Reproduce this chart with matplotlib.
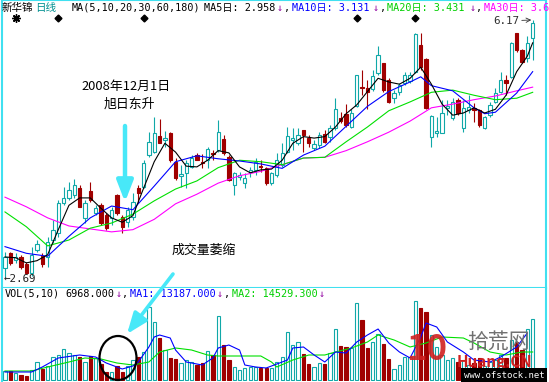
import numpy as np
import matplotlib
matplotlib.use('Agg')
import matplotlib.pyplot as plt
from matplotlib.patches import Ellipse, FancyArrowPatch

plt.rcParams['font.family'] = ['Noto Sans CJK SC', 'DejaVu Sans']

# daily candles, 新华锦
opens = [2.81, 3.01, 2.92, 2.96, 2.87, 2.74, 3.06, 2.97, 2.96, 3.19,
         3.29, 3.69, 3.76, 3.80, 3.89, 3.49, 3.85, 3.56, 3.66, 3.53,
         3.49, 3.80, 3.50, 3.43, 3.50, 3.89, 3.91, 4.34, 4.38, 4.60,
         4.54, 4.64, 4.25, 4.06, 4.10, 4.18, 4.34, 4.25, 4.27, 4.37,
         4.41, 4.56, 4.31, 3.94, 4.04, 3.96, 4.11, 4.14, 4.19, 4.17,
         3.96, 4.07, 4.21, 4.38, 4.54, 4.50, 4.68, 4.57, 4.44, 4.48,
         4.63, 4.59, 4.71, 4.84, 4.90, 4.72, 5.00, 5.26, 5.25, 5.24,
         5.45, 5.59, 5.36, 5.11, 5.20, 5.32, 5.34, 5.47, 5.83, 5.64,
         4.59, 4.64, 4.64, 4.98, 4.84, 5.09, 4.71, 4.95, 4.98, 4.95,
         4.71, 4.88, 5.06, 5.20, 5.36, 5.40, 5.99, 5.76, 5.65, 5.93]
highs = [3.03, 3.03, 3.01, 2.99, 2.89, 3.10, 3.19, 3.01, 3.23, 3.46,
         3.73, 3.91, 3.98, 4.02, 3.94, 3.73, 3.98, 3.66, 3.69, 3.56,
         3.64, 3.81, 3.53, 3.64, 3.83, 3.94, 4.27, 4.65, 4.86, 4.83,
         4.67, 4.65, 4.30, 4.21, 4.27, 4.34, 4.37, 4.35, 4.45, 4.41,
         4.82, 4.61, 4.34, 4.11, 4.11, 4.10, 4.18, 4.30, 4.27, 4.18,
         4.11, 4.37, 4.50, 4.72, 4.71, 4.71, 4.68, 4.61, 4.54, 4.65,
         4.68, 4.75, 5.11, 4.92, 5.03, 4.96, 5.42, 5.49, 5.36, 5.49,
         5.82, 5.59, 5.38, 5.22, 5.32, 5.47, 5.47, 5.99, 5.99, 5.65,
         4.88, 4.86, 5.09, 5.09, 5.11, 5.11, 5.09, 5.15, 5.05, 4.96,
         4.87, 5.06, 5.25, 5.47, 5.42, 5.87, 5.99, 5.78, 5.95, 6.17]
lows = [2.69, 2.85, 2.88, 2.80, 2.73, 2.70, 3.03, 2.83, 2.83, 3.15,
        3.23, 3.66, 3.73, 3.76, 3.64, 3.42, 3.71, 3.53, 3.39, 3.33,
        3.39, 3.53, 3.29, 3.37, 3.46, 3.69, 3.89, 4.31, 4.37, 4.50,
        4.45, 4.25, 4.00, 3.91, 3.89, 4.17, 4.27, 4.17, 4.17, 4.27,
        4.38, 4.34, 3.99, 3.80, 4.00, 3.89, 4.04, 4.07, 4.11, 3.94,
        3.94, 4.04, 4.18, 4.37, 4.41, 4.48, 4.38, 4.45, 4.41, 4.44,
        4.50, 4.52, 4.68, 4.77, 4.72, 4.71, 4.99, 5.15, 4.96, 5.21,
        5.42, 5.20, 5.05, 5.05, 5.15, 5.29, 5.32, 5.45, 5.49, 4.96,
        4.45, 4.59, 4.64, 4.88, 4.82, 4.88, 4.65, 4.91, 4.79, 4.72,
        4.69, 4.86, 5.05, 5.18, 5.15, 5.38, 5.74, 5.59, 5.60, 5.63]
closes = [2.96, 2.88, 2.96, 2.83, 2.74, 2.99, 3.14, 2.87, 3.16, 3.33,
          3.69, 3.76, 3.87, 3.94, 3.64, 3.69, 3.73, 3.62, 3.42, 3.35,
          3.60, 3.56, 3.37, 3.60, 3.71, 3.83, 4.23, 4.52, 4.64, 4.50,
          4.57, 4.27, 4.03, 4.08, 4.23, 4.30, 4.27, 4.23, 4.42, 4.35,
          4.65, 4.37, 4.00, 4.10, 4.07, 4.03, 4.14, 4.25, 4.18, 3.96,
          4.10, 4.27, 4.37, 4.60, 4.57, 4.61, 4.61, 4.50, 4.49, 4.61,
          4.52, 4.71, 4.96, 4.80, 4.75, 4.91, 5.42, 5.25, 5.20, 5.41,
          5.70, 5.22, 5.06, 5.18, 5.29, 5.42, 5.42, 5.98, 5.53, 4.98,
          4.87, 4.67, 4.91, 5.00, 5.06, 4.91, 4.98, 4.99, 4.95, 4.75,
          4.86, 5.02, 5.18, 5.36, 5.32, 5.86, 5.76, 5.60, 5.86, 6.13]
volumes = [14000, 14000, 11000, 7500, 6000, 15000, 27500, 16000, 21000, 34000,
           37500, 46000, 41000, 37500, 35000, 27500, 36000, 32500, 24000, 12500,
           12500, 21000, 12500, 21000, 30000, 35000, 42500, 110000, 87500, 62500,
           45000, 32500, 31000, 25000, 30000, 27500, 22500, 26000, 44000, 37500,
           96000, 52500, 30000, 19000, 15000, 17500, 19000, 19000, 17500, 17500,
           17500, 27500, 35000, 71500, 52500, 57500, 39000, 24000, 19000, 25000,
           24000, 40000, 76000, 51000, 49000, 47500, 116000, 90000, 47500, 57500,
           69000, 54000, 31500, 16000, 22500, 35000, 35000, 118500, 107500, 102500,
           67500, 49500, 37500, 30000, 33000, 27000, 30000, 22500, 25500, 33000,
           21000, 27000, 30000, 37500, 33000, 60000, 57000, 45000, 76000, 91000]

# moving averages
ma5_idx = list(range(0, 100, 2)) + [99]
ma5 = [2.96, 2.95, 2.88, 2.91, 2.99, 3.33, 3.66, 3.76, 3.76, 3.62,
       3.49, 3.43, 3.52, 3.89, 4.25, 4.50, 4.38, 4.19, 4.18, 4.27,
       4.40, 4.37, 4.18, 4.10, 4.14, 4.15, 4.27, 4.50, 4.59, 4.57,
       4.59, 4.72, 4.90, 5.02, 5.20, 5.38, 5.33, 5.30, 5.38, 5.53,
       5.30, 5.03, 4.88, 4.91, 4.98, 4.91, 4.96, 5.15, 5.47, 5.68, 5.86]
ma10_idx = [0, 4, 8, 12, 16, 20, 24, 28, 32, 36, 40, 44, 48, 52, 56, 60, 64, 68,
            72, 76, 78, 80, 84, 88, 90, 92, 96, 99]
ma10 = [3.10, 3.01, 2.97, 3.24, 3.49, 3.65, 3.60, 3.92, 4.25, 4.33, 4.29, 4.26,
        4.22, 4.16, 4.34, 4.46, 4.73, 5.00, 5.20, 5.33, 5.40, 5.28, 5.21, 4.98,
        4.90, 4.92, 5.18, 5.47]
ma_long_idx = list(range(0, 100, 4)) + [99]
ma20 = [3.57, 3.37, 3.11, 3.19, 3.35, 3.42, 3.54, 3.72, 3.88, 3.99, 4.17, 4.27,
        4.25, 4.21, 4.30, 4.31, 4.52, 4.72, 4.94, 5.06, 5.19, 5.22, 5.15, 5.09,
        5.11, 5.19]
ma30 = [3.77, 3.64, 3.49, 3.38, 3.34, 3.30, 3.33, 3.47, 3.68, 3.81, 3.96, 4.06,
        4.12, 4.21, 4.30, 4.31, 4.40, 4.52, 4.65, 4.80, 4.98, 5.03, 5.09, 5.14,
        5.21, 5.26]

vol_ma5_idx = [0, 5, 7, 10, 14, 17, 19, 21, 22, 24, 25, 27, 28, 29, 31, 32, 34, 37,
               39, 40, 42, 44, 45, 47, 49, 53, 54, 56, 58, 60, 62, 64, 66, 68, 70,
               72, 74, 76, 78, 79, 81, 83, 86, 88, 91, 93, 96, 98]
vol_ma5 = [12000, 12000, 19500, 33000, 37500, 34500, 25500, 19500, 16500, 21000,
           27000, 49500, 64500, 67500, 63000, 45000, 27000, 22500, 33000, 48000,
           52500, 45000, 22500, 19500, 18000, 30000, 48000, 49500, 37500, 27000,
           42000, 40500, 57000, 67500, 76500, 55500, 42000, 33000, 64500, 85500,
           79500, 57000, 42000, 30000, 27000, 34500, 49500, 70500]
vol_ma10_idx = [0, 5, 8, 12, 15, 18, 21, 24, 27, 29, 32, 35, 38, 40, 44, 48, 50, 51,
                54, 57, 60, 62, 65, 68, 70, 73, 76, 79, 82, 86, 88, 91, 94, 97, 99]
vol_ma10 = [13500, 13500, 19500, 27000, 33000, 31500, 25500, 22500, 27000, 42000,
            48000, 45000, 37500, 36000, 36000, 36000, 27000, 19500, 30000, 37500,
            37500, 42000, 48000, 57000, 67500, 60000, 49500, 55500, 64500, 63000,
            55500, 42000, 37500, 42000, 42000]

info_idx = [10, 26, 66, 77]
star_idx = [2]

W, H = 549, 382
UP, DN = '#10a8a8', '#a00000'
EDGE = '#40e0f0'
ARROW = '#48e8f8'
MONO = ['DejaVu Sans Mono', 'Noto Sans CJK SC']


def fp(px, py):
    # pixel position (from top-left) to figure fraction
    return px / W, 1 - py / H


fig = plt.figure(figsize=(W / 100, H / 100), dpi=100)
ax = fig.add_axes([2 / W, 1 - 288 / H, 544 / W, 288 / H])
axv = fig.add_axes([2 / W, 1 - 381 / H, 544 / W, 93 / H])

x = np.arange(len(closes))
o, h, l, c = (np.array(v) for v in (opens, highs, lows, closes))
up = c >= o
dn = ~up

ax.vlines(x[up], c[up], h[up], color=UP, lw=0.8, zorder=2)
ax.vlines(x[up], l[up], o[up], color=UP, lw=0.8, zorder=2)
ax.bar(x[up], (c - o)[up], bottom=o[up], width=0.62, facecolor='white',
       edgecolor=UP, lw=0.8, zorder=2)
ax.vlines(x[dn], l[dn], h[dn], color=DN, lw=0.8, zorder=2)
ax.bar(x[dn], (o - c)[dn], bottom=c[dn], width=0.62, color=DN,
       edgecolor=DN, lw=0.8, zorder=2)

ax.plot(ma_long_idx, ma30, color='#ff00ff', lw=0.8, zorder=3)
ax.plot(ma_long_idx, ma20, color='#00e000', lw=0.8, zorder=3)
ax.plot(ma10_idx, ma10, color='#0000ff', lw=0.8, zorder=3)
ax.plot(ma5_idx, ma5, color='black', lw=0.8, zorder=3)

ax.plot(info_idx, [0.9375] * len(info_idx), 'D', color='black', ms=3.5,
        transform=ax.get_xaxis_transform())
ax.plot(star_idx, [0.9375] * len(star_idx), marker=(8, 2, 0), ls='none',
        color='black', ms=6, mew=1, transform=ax.get_xaxis_transform())

ax.set_xlim(-0.56, 101.5)
ax.set_ylim(2.54, 6.44)

v = np.array(volumes)
axv.bar(x[up], v[up], width=0.62, facecolor='white', edgecolor=UP, lw=0.8)
axv.bar(x[dn], v[dn], width=0.62, color=DN, edgecolor=DN, lw=0.8)
axv.plot(vol_ma10_idx, vol_ma10, color='#00e000', lw=0.8)
axv.plot(vol_ma5_idx, vol_ma5, color='#0000ff', lw=0.8)
axv.set_xlim(-0.56, 101.5)
axv.set_ylim(-1500, 138000)

for a in (ax, axv):
    a.set_xticks([])
    a.set_yticks([])
    for s in a.spines.values():
        s.set_color(EDGE)
        s.set_linewidth(1.5)
axv.spines['top'].set_visible(False)
axv.spines['bottom'].set_visible(False)

# header line
fs = 7.3
fig.text(*fp(2, 8), '新华锦', fontsize=7.6, va='center')
fig.text(*fp(35, 8), '日线', fontsize=7.6, va='center', color='#009090')
segs = [(72, 'MA(5,10,20,30,60,180)', 'black'),
        (204, 'MA5日: 2.958', 'black'), (277, '↓', '#9000a0'), (284, ',', 'black'),
        (292, 'MA10日: 3.131', '#0000ff'), (373, '↓', '#9000a0'), (380, ',', 'black'),
        (387, 'MA20日: 3.431', '#00d000'), (470, '↓', '#9000a0'), (476, ',', 'black'),
        (484, 'MA30日: 3.6', '#ff00ff')]
for px, s, col in segs:
    fig.text(*fp(px, 8), s, fontsize=fs, va='center', color=col, family=MONO)

vsegs = [(5, 'VOL(5,10)', 'black'), (65, '6968.000', 'black'), (116, '↓', '#9000a0'),
         (122, ',', 'black'), (130, 'MA1: 13187.000', '#0000ff'),
         (217, '↓', '#9000a0'), (224, ',', 'black'),
         (232, 'MA2: 14529.300', '#00d000'), (319, '↓', '#9000a0')]
for px, s, col in vsegs:
    fig.text(*fp(px, 294), s, fontsize=fs, va='center', color=col, family=MONO)

# price extremes
fig.text(*fp(4, 279), '←2.69', fontsize=7.8, va='center', family=MONO, color='#202020')
ax.annotate('6.17', xy=(99, max(highs)), xycoords='data',
            xytext=(493, H - 21), textcoords='figure pixels', va='center',
            fontsize=7.8, family=MONO, color='#303030',
            arrowprops=dict(arrowstyle='->', color='#303030', lw=0.6,
                            shrinkA=0, shrinkB=1))

# annotations
fig.text(*fp(126, 86), '2008年12月1日', fontsize=9.3, ha='center', va='center')
fig.text(*fp(129, 104), '旭日东升', fontsize=9.3, ha='center', va='center')
fig.text(*fp(204, 250), '成交量萎缩', fontsize=9.3, ha='center', va='center')

for (x0, y0), (x1, y1), lw in [((125, 126), (125, 202), 3.2),
                               ((173, 274), (127, 334), 2.6)]:
    fig.add_artist(FancyArrowPatch(fp(x0, y0), fp(x1, y1), transform=fig.transFigure,
                                   arrowstyle='-|>,head_width=0.35,head_length=0.9',
                                   mutation_scale=14, color=ARROW, lw=lw,
                                   shrinkA=0, shrinkB=0, zorder=5))

cx, cy = fp(118, 358)
fig.add_artist(Ellipse((cx, cy), 37 / W, 44 / H, transform=fig.transFigure,
                       fill=False, ec='black', lw=1.6, zorder=5))

# watermark
fig.text(*fp(427, 350), '10', fontsize=25, fontweight='bold', color='#d02020',
         ha='center', va='center', alpha=0.9)
fig.text(*fp(498, 342), '拾荒网', fontsize=15, color='#707070', ha='center', va='center')
fig.text(*fp(494, 362), 'Huang.CN', fontsize=11, fontweight='bold', color='#d02020',
         ha='center', va='center')
fig.text(*fp(504, 375), 'www.ofstock.net', fontsize=6.5, color='white',
         ha='center', va='center', family=MONO,
         bbox=dict(boxstyle='square,pad=0.25', fc='black', ec='none'))

fig.savefig('out.png', dpi=100)
